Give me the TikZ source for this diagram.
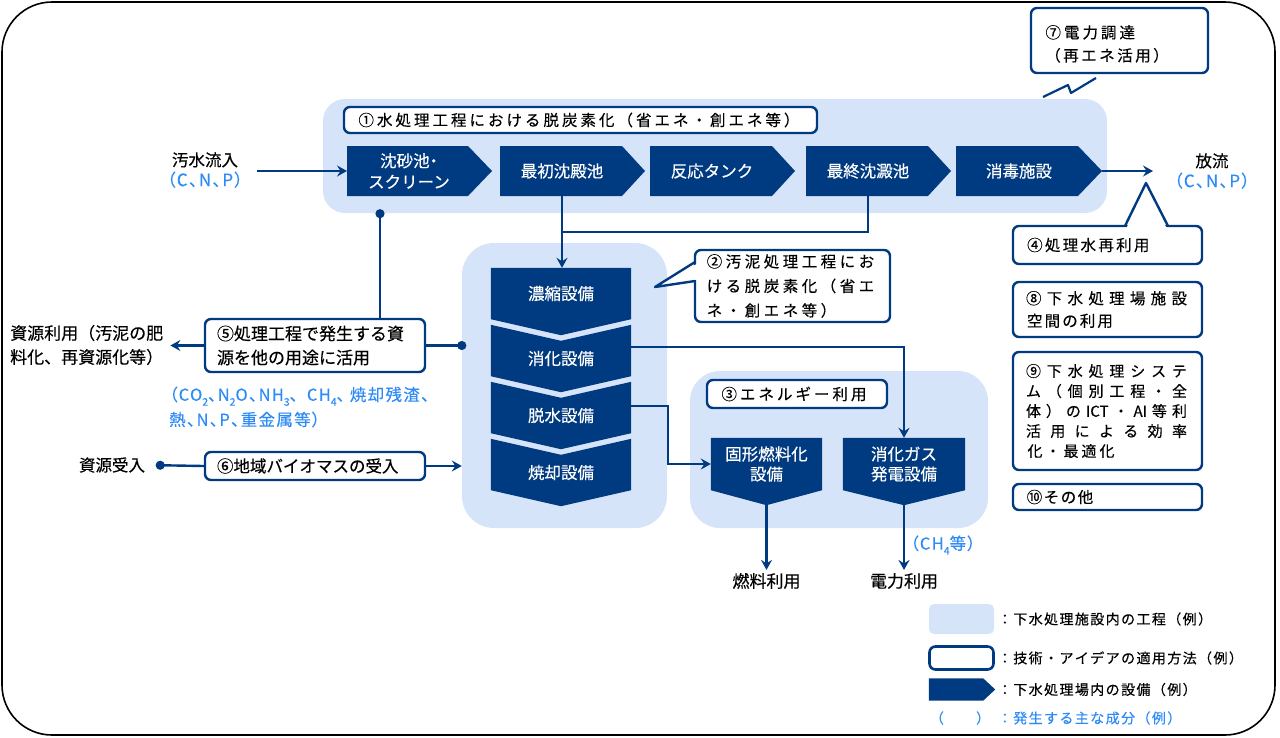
\documentclass[tikz,border=0pt]{standalone}
\usepackage{fontspec}
\setmainfont{Noto Sans CJK JP}[FakeBold=0.3]
\newfontfamily\jpp[RawFeature=+palt,FakeBold=0.3]{Noto Sans CJK JP}
\newfontfamily\jpps[RawFeature=+palt,LetterSpace=8,FakeBold=0.3]{Noto Sans CJK JP}
\usetikzlibrary{arrows.meta,calc}
\definecolor{navy}{HTML}{003A80}
\definecolor{lblue}{HTML}{D6E4FA}
\definecolor{tblue}{HTML}{2E8BF5}
\newlength\gpitch
\newcommand\jgrid[2]{\setlength\gpitch{#1pt}\jgridnext#2\relax}
\def\jgridnext#1{\ifx#1\relax\else\makebox[\gpitch]{#1}\expandafter\jgridnext\fi}
\newcommand\jspread[2]{\makebox[#1pt][s]{\jsprA#2\relax}}
\def\jsprA#1{#1\jsprB}
\def\jsprB#1{\ifx#1\relax\else\hfil#1\expandafter\jsprB\fi}
\newcommand\sbs[1]{\raisebox{-0.3em}{\fontsize{10.5}{10.5}\selectfont#1}}
\pgfdeclarelayer{bg}\pgfdeclarelayer{mid}\pgfsetlayers{bg,mid,main}
\begin{document}
\begin{tikzpicture}[x=1pt,y=-1pt,
  grp/.style={fill=lblue,draw=none,inner sep=0pt},
  tbox/.style={draw=navy,line width=2.4pt,rounded corners=6pt,fill=white,align=left,inner xsep=13pt,inner ysep=0pt,font=\fontsize{15.5}{23}\selectfont},
  body/.style={inner sep=0pt,text=white,align=center,font=\fontsize{16.5}{21}\selectfont},
  conn/.style={draw=navy,line width=2.4pt},
  arr/.style={conn,arrows={-Stealth[length=10pt,width=11pt,inset=3.5pt]}},
  dotL/.style={conn,arrows={Circle[length=9pt]-}},
  dotR/.style={conn,arrows={-Circle[length=9pt]}},
  lbl/.style={inner sep=0pt,align=center,font=\fontsize{16.5}{20}\selectfont},
  leg/.style={inner sep=0pt,anchor=west,font=\fontsize{14}{14}\selectfont},
]
\useasboundingbox (0,0) rectangle (1280,737);
\draw[line width=1.6pt,rounded corners=50pt] (2,2) rectangle (1275,735);

\begin{pgfonlayer}{bg}
\node[grp,rounded corners=22pt,minimum width=784,minimum height=114] (wg) at (715,156) {};
\node[grp,rounded corners=32pt,minimum width=205,minimum height=285] (sg) at (564.5,385.5) {};
\node[grp,rounded corners=30pt,minimum width=298,minimum height=157] (eg) at (839,449.5) {};
\end{pgfonlayer}

% water process equipment
\node[body,minimum width=121,minimum height=50] (s1) at (409,171) {{\jpp 沈砂池・}\\スクリーン};
\node[body,minimum width=122,minimum height=50] (s2) at (562,171) {最初沈殿池};
\node[body,minimum width=122,minimum height=50] (s3) at (712,171) {反応タンク};
\node[body,minimum width=122,minimum height=50] (s4) at (868,171) {最終沈澱池};
\node[body,minimum width=122,minimum height=50] (s5) at (1019,171) {消毒施設};
\coordinate (s5tip) at (1102,171);

% sludge equipment
\node[body,minimum width=140,minimum height=51] (c1) at (561,293.5) {濃縮設備};
\node[body,minimum width=140,minimum height=35] (c2) at (561,358.5) {消化設備};
\node[body,minimum width=140,minimum height=35] (c3) at (561,415.5) {脱水設備};
\node[body,minimum width=140,minimum height=35] (c4) at (561,472.5) {焼却設備};

% energy equipment
\node[body,minimum width=111,minimum height=52,font=\fontsize{16.5}{20}\selectfont] (e1) at (766.5,464) {固形燃料化\\設備};
\node[body,minimum width=122,minimum height=52,font=\fontsize{16.5}{20}\selectfont] (e2) at (904,464) {消化ガス\\発電設備};

% legend pentagon body
\node[inner sep=0pt,minimum width=54,minimum height=22] (lg3) at (956,689.5) {};

\begin{pgfonlayer}{mid}
\fill[navy] (347,146) -- (468,146) -- (492,171) -- (468,196) -- (347,196) -- cycle;
\fill[navy] (500,146) -- (622,146) -- (645,171) -- (622,196) -- (500,196) -- cycle;
\fill[navy] (650,146) -- (772,146) -- (795,171) -- (772,196) -- (650,196) -- cycle;
\fill[navy] (806,146) -- (928,146) -- (951,171) -- (928,196) -- (806,196) -- cycle;
\fill[navy] (956,146) -- (1078,146) -- (1102,171) -- (1078,196) -- (956,196) -- cycle;
\fill[navy] (c1.north west) -- (c1.north east) -- (c1.south east) -- ($(c1.south)+(0,16)$) -- (c1.south west) -- cycle;
\foreach \n in {c2,c3,c4}{
  \fill[navy] ($(\n.north west)+(0,-16)$) -- (\n.north) -- ($(\n.north east)+(0,-16)$) -- (\n.south east) -- ($(\n.south)+(0,16)$) -- (\n.south west) -- cycle;}
\foreach \n in {e1,e2}{
  \fill[navy] (\n.north west) -- (\n.north east) -- (\n.south east) -- ($(\n.south)+(0,15)$) -- (\n.south west) -- cycle;}
\fill[navy] (lg3.north west) -- (lg3.north east) -- ($(lg3.east)+(12,0)$) -- (lg3.south east) -- (lg3.south west) -- cycle;
\end{pgfonlayer}

% idea boxes
\node[tbox,text width=447pt,minimum height=26] (b1) at (580.5,120) {\jgrid{18.5}{①水処理工程における脱炭素化（省エネ・創エネ等）}};
\node[tbox,text width=151pt,minimum height=65] (b7) at (1119.5,40.5) {\rule{0pt}{20pt}\jgrid{18.5}{⑦電力調達}\\\jgrid{18}{（再エネ活用）}};
\node[tbox,inner xsep=10pt,text width=175pt,minimum height=72,font=\fontsize{15.5}{24.5}\selectfont] (b2) at (792.5,286) {\jgrid{19}{②汚泥処理工程にお}\\\jgrid{19}{ける脱炭素化（省エ}\\\jgrid{19}{ネ・創エネ等）}};
\node[tbox,text width=154pt,minimum height=28] (b3) at (797,394) {\jgrid{18.5}{③エネルギー利用}};
\node[tbox,text width=163pt,minimum height=38] (b4) at (1107.5,245) {\jgrid{17.8}{④処理水再利用}};
\node[tbox,text width=163pt,minimum height=55,font=\fontsize{15.5}{22.5}\selectfont] (b8) at (1107.5,309.5) {\jspread{161}{⑧下水処理場施設}\\\jgrid{17.6}{空間の利用}};
\node[tbox,text width=163pt,minimum height=118,font=\fontsize{15}{20}\selectfont] (b9) at (1107.5,411) {\jspread{161}{⑨下水処理システ}\\\jspread{161}{ム（個別工程・全}\\\makebox[161pt][s]{体\hfil）\hfil の\hfil ICT\hfil・\hfil AI\hfil 等\hfil 利}\\\jspread{161}{活用による効率}\\\jgrid{18}{化・最適化}};
\node[tbox,text width=163pt,minimum height=26] (b10) at (1107.5,497) {\jgrid{17}{⑩その他}};
\node[tbox,inner xsep=12pt,text width=196pt,minimum height=53,font=\fontsize{17}{24}\selectfont] (b5) at (315,345.5) {⑤処理工程で発生する資\\源を他の用途に活用};
\node[tbox,inner xsep=12pt,text width=196pt,minimum height=28,font=\fontsize{16.5}{24}\selectfont] (b6) at (315,466) {⑥地域バイオマスの受入};

% callout pointers
\fill[white] (697.5,263.5) -- (657,286) -- (697.5,279.5) -- cycle;
\draw[navy,line width=2.4pt,line join=round] (695,262) -- (655,287) -- (695,281);
\fill[white] (1126.5,228) -- (1146,185.5) -- (1166.5,228) -- cycle;
\draw[navy,line width=2.4pt,line join=round] (1125,226) -- (1146,183) -- (1168,226);
\draw[navy,line width=2.2pt,line join=round] (1043,97) -- (1068,85) -- (1071,93) -- (1096,78);

% plain labels
\node[lbl] (in) at (205,170) {汚水流入\\{\jpps\fontsize{17}{20}\selectfont\color{tblue}（C、N、P）}};
\node[lbl] (out) at (1212,171) {放流\\{\jpps\fontsize{17}{20}\selectfont\color{tblue}（C、N、P）}};
\node[lbl,anchor=west,align=left,font=\fontsize{17}{24}\selectfont] (res) at (10,345) {資源利用（汚泥の肥\\料化、再資源化等）};
\node[lbl,anchor=west,align=left,text=tblue,font=\jpps\fontsize{16.5}{25}\selectfont] (comp) at (169,407) {（CO\sbs{2}、N\sbs{2}O、NH\sbs{3}、\hspace{9pt}CH\sbs{4}、\hspace{5pt}焼却残渣、\\熱、N、P、重金属等）};
\node[lbl] (rin) at (112,465) {資源受入};
\node[lbl,font=\fontsize{17}{20}\selectfont] (fuel) at (766.5,581) {燃料利用};
\node[lbl,font=\fontsize{17}{20}\selectfont] (pwr) at (904,581) {電力利用};
\node[lbl,text=tblue,font=\jpps\fontsize{16.5}{20}\selectfont] (ch4) at (943,545) {（CH\sbs{4}等）};

% connectors
\coordinate (outend) at (1153,171);
\coordinate (j) at (562,232);
\coordinate (d5x) at (380,0);
\draw[arr,shorten <=14pt] (in.east |- s1.west) -- (347,171);
\draw[arr] (s5tip) -- (outend);
\draw[conn] (s4.south) |- (j);
\draw[arr] (s2.south) -- (s2.south |- c1.north);
\draw[dotL] ($(wg.south -| d5x)+(0,-4)$) -- (b5.north -| d5x);
\draw[dotR] (b5.east) -- ($(b5.east -| sg.west)+(4.5,0)$);
\draw[arr,shorten >=7pt] (b5.west) -- (b5.west -| res.east);
\draw[dotL,shorten <=10.5pt] (rin.east) -- (b6.west);
\draw[arr] (b6.east) -- (b6.east -| sg.west);
\draw[arr] ($(c2.north east)+(0,6)$) -| (e2.north);
\draw[arr] ($(c3.north east)+(0,8)$) -- ++(37,0) |- (e1.west);
\draw[arr,shorten >=3pt] ($(e1.south)+(0,15)$) -- (fuel.north);
\draw[arr,shorten >=3pt] ($(e2.south)+(0,15)$) -- (pwr.north);

% legend
\node[grp,rounded corners=5pt,minimum width=65,minimum height=30] (lg1) at (961.5,619) {};
\node[draw=navy,line width=2.6pt,rounded corners=6pt,fill=white,minimum width=64,minimum height=23,inner sep=0pt] (lg2) at (961.5,658) {};
\node[leg] (lt1) at (997,619) {\jgrid{15.4}{：下水処理施設内の工程（例）}};
\node[leg] (lt2) at (997,658) {\jgrid{15.4}{：技術・アイデアの適用方法（例）}};
\node[leg] (lt3) at (997,689.5) {\jgrid{15.4}{：下水処理場内の設備（例）}};
\node[leg,text=tblue] (lt4a) at (929,718) {\jgrid{15.4}{（　　）}};
\node[leg,text=tblue] (lt4b) at (997,718) {\jgrid{15.4}{：発生する主な成分（例）}};
\end{tikzpicture}
\end{document}
